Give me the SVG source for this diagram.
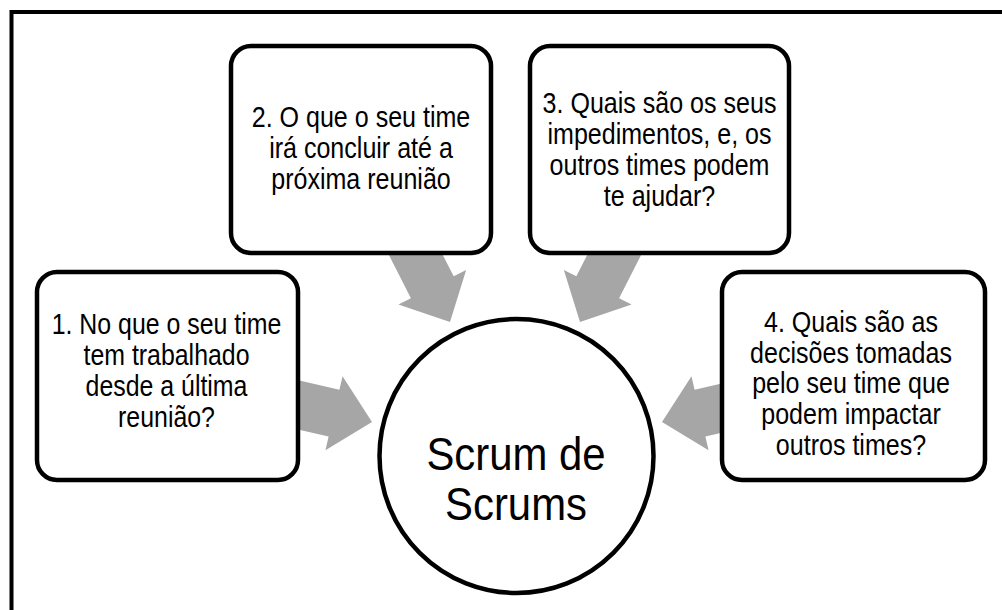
<svg xmlns="http://www.w3.org/2000/svg" width="1002" height="610" viewBox="0 0 1002 610">
<style>
.box{fill:#fff;stroke:#000;stroke-width:4.5}
.t{font-family:"Liberation Sans",Arial,sans-serif;font-size:30px;fill:#000;text-anchor:middle}
.ct{font-family:"Liberation Sans",Arial,sans-serif;font-size:46px;fill:#000;text-anchor:middle}
.arr{fill:#A6A6A6}
</style>
<defs>
<polygon id="blk" points="0,0 -39,-38 -39,-24 -110,-24 -110,24 -39,24 -39,38"/>
</defs>
<rect x="11.5" y="12" width="1010" height="620" fill="#fff" stroke="#000" stroke-width="4"/>
<g id="connectors">
<use href="#blk" class="arr" transform="translate(372 422) rotate(13)"/>
<use href="#blk" class="arr" transform="translate(450 322) rotate(63)"/>
<use href="#blk" class="arr" transform="translate(580 322) rotate(117)"/>
<use href="#blk" class="arr" transform="translate(662 422) rotate(167)"/>
</g>
<g id="node1">
<rect class="box" x="37" y="272" width="261" height="208" rx="20"/>
<g transform="translate(166.5 0) scale(0.83 1)">
<text class="t" x="0" y="334">1. No que o seu time</text>
<text class="t" x="0" y="365">tem trabalhado</text>
<text class="t" x="0" y="396">desde a última</text>
<text class="t" x="0" y="427">reunião?</text>
</g>
</g>
<g id="node2">
<rect class="box" x="231" y="46" width="260" height="207" rx="20"/>
<g transform="translate(361 0) scale(0.835 1)">
<text class="t" x="0" y="127">2. O que o seu time</text>
<text class="t" x="0" y="158">irá concluir até a</text>
<text class="t" x="0" y="189">próxima reunião</text>
</g>
</g>
<g id="node3">
<rect class="box" x="530" y="46" width="259" height="207" rx="20"/>
<g transform="translate(659.5 0) scale(0.835 1)">
<text class="t" x="0" y="113">3. Quais são os seus</text>
<text class="t" x="0" y="144">impedimentos, e, os</text>
<text class="t" x="0" y="175">outros times podem</text>
<text class="t" x="0" y="206">te ajudar?</text>
</g>
</g>
<g id="node4">
<rect class="box" x="722" y="272" width="263" height="208" rx="20"/>
<g transform="translate(851 0) scale(0.835 1)">
<text class="t" x="0" y="332">4. Quais são as</text>
<text class="t" x="0" y="363">decisões tomadas</text>
<text class="t" x="0" y="393.5">pelo seu time que</text>
<text class="t" x="0" y="424">podem impactar</text>
<text class="t" x="0" y="455">outros times?</text>
</g>
</g>
<g id="center">
<circle cx="516.5" cy="456" r="137" fill="#fff" stroke="#000" stroke-width="4.5"/>
<g transform="translate(516 0) scale(0.91 1)">
<text class="ct" x="0" y="470">Scrum de</text>
<text class="ct" x="0" y="520">Scrums</text>
</g>
</g>
</svg>
